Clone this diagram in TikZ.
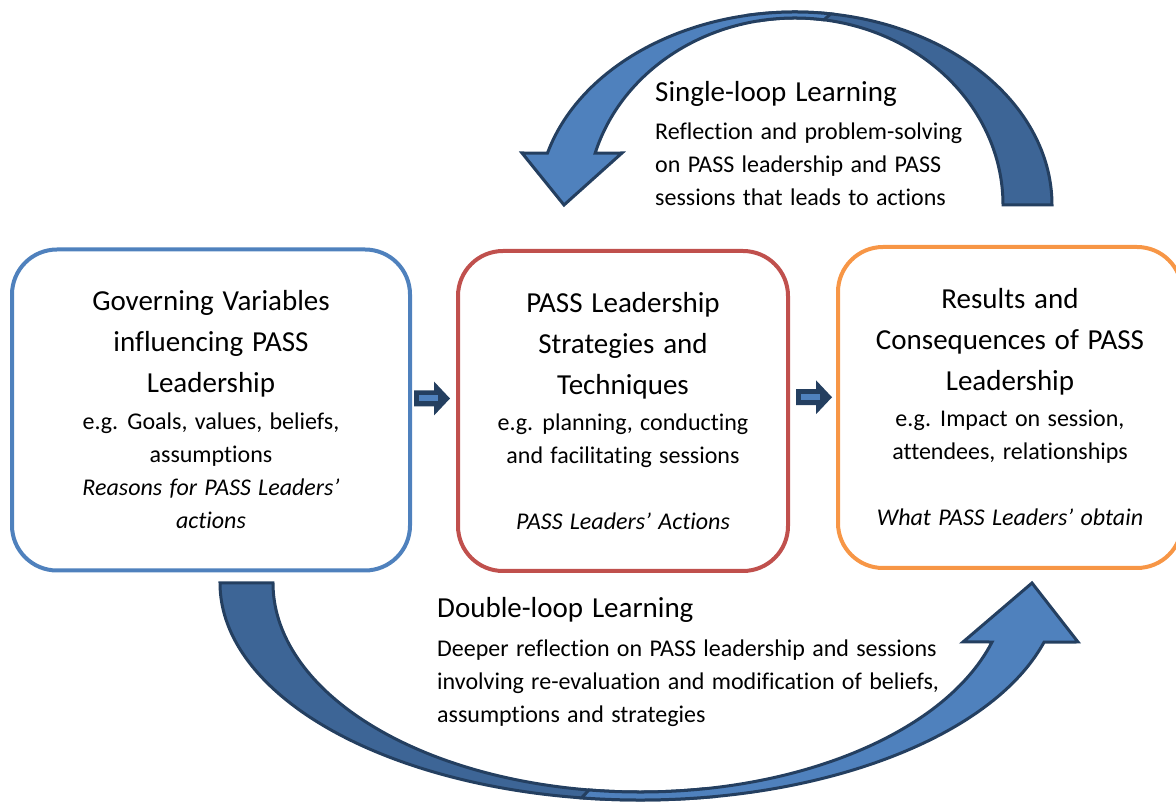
\documentclass[tikz,border=0pt]{standalone}
\usepackage{fontspec}
\setmainfont{Carlito}[Ligatures=NoCommon, WordSpace=1.35]
\usetikzlibrary{positioning,calc}

\definecolor{accblue}{HTML}{4F81BD}
\definecolor{accred}{HTML}{C0504D}
\definecolor{accorange}{HTML}{F79646}
\definecolor{loopdark}{HTML}{3D6596}
\definecolor{loopline}{HTML}{243F60}

\newcommand{\boxtitle}{\fontsize{29}{41}\selectfont}
\newcommand{\boxbody}{\fontsize{24}{33}\selectfont}

\tikzset{
  stage/.style={draw=#1, line width=4pt, rounded corners=45pt, inner sep=0pt,
    text width=330pt, align=flush center},
  loopband/.style={draw=loopline, line width=3pt, line join=miter},
  looptitle/.style={font=\boxtitle, inner sep=0pt, anchor=base west},
  loopbody/.style={font=\boxbody, inner sep=0pt, anchor=north west, align=left}
}

\begin{document}
\begin{tikzpicture}[x=1pt,y=1pt]
\useasboundingbox (0,0) rectangle (1176,803);

% the three stages
\node[stage=accblue, minimum width=398pt, minimum height=321pt] (gov) at (211,393)
  {{\boxtitle Governing Variables\\ influencing PASS\\ Leadership\par}\vspace{4pt}
   {\boxbody e.g. Goals, values, beliefs,\\ assumptions\\ \textit{Reasons for PASS Leaders’}\\ \textit{actions}\par}\vspace{25pt}};
\node[stage=accred, minimum width=330pt, minimum height=320pt] (strat) at (623,392)
  {{\boxtitle PASS Leadership\\ Strategies and\\ Techniques\par}\vspace{3pt}
   {\boxbody e.g. planning, conducting\\ and facilitating sessions\\[33pt] \textit{PASS Leaders’ Actions}\par}\vspace{3pt}};
\node[stage=accorange, minimum width=344pt, minimum height=321pt] (res) at (1010,395.5)
  {{\boxtitle Results and\\ Consequences of PASS\\ Leadership\par}\vspace{3pt}
   {\boxbody e.g. Impact on session,\\ attendees, relationships\\[33pt] \textit{What PASS Leaders’ obtain}\par}\vspace{3pt}};

% small arrows between stages
\coordinate (ga) at ($(gov.east)!0.5!(strat.west)+(-2,12)$);
\fill[loopline] ($(ga)+(-18,8)$) -- ++(20,0) -- ++(0,9) -- ++(16,-17) -- ++(-16,-17) -- ++(0,9) -- ++(-20,0) -- cycle;
\draw[accblue, line width=6pt] ($(ga)+(-13,0)$) -- ($(ga)+(6,0)$);
\coordinate (sa) at ($(strat.east)!0.5!(res.west)+(1,12)$);
\fill[loopline] ($(sa)+(-18,8)$) -- ++(20,0) -- ++(0,9) -- ++(16,-17) -- ++(-16,-17) -- ++(0,9) -- ++(-20,0) -- cycle;
\draw[accblue, line width=6pt] ($(sa)+(-13,0)$) -- ($(sa)+(6,0)$);

% single-loop arrow
\coordinate (sc) at (795,598);
\coordinate (sl) at (522,650);
\coordinate (st) at (564,598);
\coordinate (sr) at (622,650);
\filldraw[loopband, fill=loopdark] ($(sc)+(100:257pt and 193pt)$)
  arc[start angle=100, end angle=0, x radius=257pt, y radius=193pt]
  -- ($(sc)+(0:208pt and 187pt)$)
  arc[start angle=0, end angle=100, x radius=208pt, y radius=187pt] -- cycle;
\filldraw[loopband, fill=accblue] ($(sc)+(82:257pt and 193pt)$)
  arc[start angle=82, end angle=164.4, x radius=257pt, y radius=193pt]
  -- (sl) -- (st) -- (sr)
  -- ($(sc)+(163.9:208pt and 187pt)$)
  arc[start angle=163.9, end angle=82, x radius=208pt, y radius=187pt] -- cycle;

% double-loop arrow
\coordinate (dc) at (640,220);
\coordinate (dl) at (963,161);
\coordinate (dt) at (1032,220);
\coordinate (dr) at (1078,161);
\filldraw[loopband, fill=loopdark] ($(dc)+(180:420pt and 217pt)$)
  arc[start angle=180, end angle=280, x radius=420pt, y radius=217pt]
  -- ($(dc)+(280:367pt and 209pt)$)
  arc[start angle=280, end angle=180, x radius=367pt, y radius=209pt] -- cycle;
\filldraw[loopband, fill=accblue] ($(dc)+(262:420pt and 217pt)$)
  arc[start angle=262, end angle=344.2, x radius=420pt, y radius=217pt]
  -- (dr) -- (dt) -- (dl)
  -- ($(dc)+(343.6:367pt and 209pt)$)
  arc[start angle=343.6, end angle=262, x radius=367pt, y radius=209pt] -- cycle;

% loop labels
\node[looptitle] (single) at (655,701) {Single-loop Learning};
\node[loopbody] (singletxt) at (655,680) {Reflection and problem-solving\\ on PASS leadership and PASS\\ sessions that leads to actions};
\node[looptitle] (double) at (437,185) {Double-loop Learning};
\node[loopbody] (doubletxt) at (437,163) {Deeper reflection on PASS leadership and sessions\\ involving re-evaluation and modification of beliefs,\\ assumptions and strategies};
\end{tikzpicture}
\end{document}
